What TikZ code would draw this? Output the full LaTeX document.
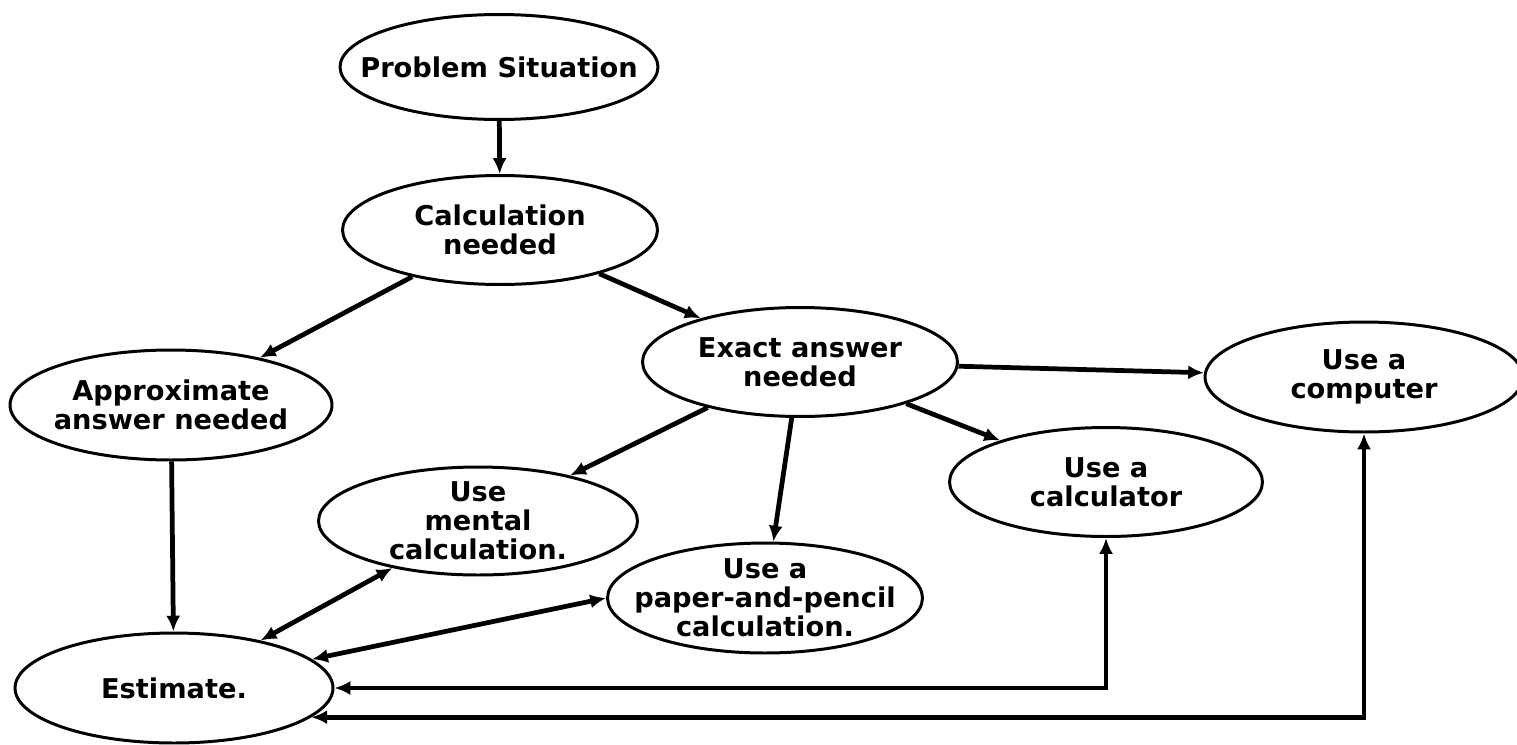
\documentclass[tikz,border=0pt]{standalone}
\usepackage{fontspec}
\setmainfont{DejaVu Sans}
\usetikzlibrary{shapes.geometric,arrows.meta}
\begin{document}
\begin{tikzpicture}[x=0.02cm,y=-0.02cm,
  box/.style={ellipse,draw,line width=1.7pt,inner xsep=-60pt,inner ysep=-30pt,align=center,
    font=\bfseries\fontsize{15.5}{16.5}\selectfont},
  conn/.style={line width=2.7pt,-{Latex[length=9pt,width=8pt]}},
  both/.style={line width=2.7pt,{Latex[length=9pt,width=8pt]}-{Latex[length=9pt,width=8pt]}}]
\useasboundingbox (0,0) rectangle (1517,744);
\node[box,minimum width=6.36cm,minimum height=2.1cm] (ps) at (499,67) {Problem Situation};
\node[box,minimum width=6.3cm,minimum height=2.18cm] (cn) at (500,230) {Calculation\\needed};
\node[box,minimum width=6.44cm,minimum height=2.2cm] (approx) at (171,405) {Approximate\\answer needed};
\node[box,minimum width=6.3cm,minimum height=2.18cm] (exact) at (800,362) {Exact answer\\needed};
\node[box,minimum width=6.36cm,minimum height=2.2cm] (computer) at (1364,377) {Use a\\computer};
\node[box,minimum width=6.26cm,minimum height=2.18cm] (calc) at (1106,482) {Use a\\calculator};
\node[box,minimum width=6.38cm,minimum height=2.16cm] (mental) at (478,521) {Use\\mental\\calculation.};
\node[box,minimum width=6.3cm,minimum height=2.2cm] (paper) at (765,598) {Use a\\paper-and-pencil\\calculation.};
\node[box,minimum width=6.36cm,minimum height=2.2cm] (estimate) at (174,688) {Estimate.};

\draw[conn] (ps) -- (cn);
\draw[conn] (cn) -- (approx);
\draw[conn] (cn) -- (exact);
\draw[conn] (exact) -- (computer);
\draw[conn] (exact) -- (mental);
\draw[conn] (exact) -- (paper);
\draw[conn] (exact) -- (calc);
\draw[conn] (approx) -- (estimate);
\draw[both] (mental) -- (estimate);
\draw[both] (paper.west) -- (estimate);
\draw[both] (calc.south) |- (estimate.east);
\draw[both] (computer.south) |- (estimate.-12);
\end{tikzpicture}
\end{document}
